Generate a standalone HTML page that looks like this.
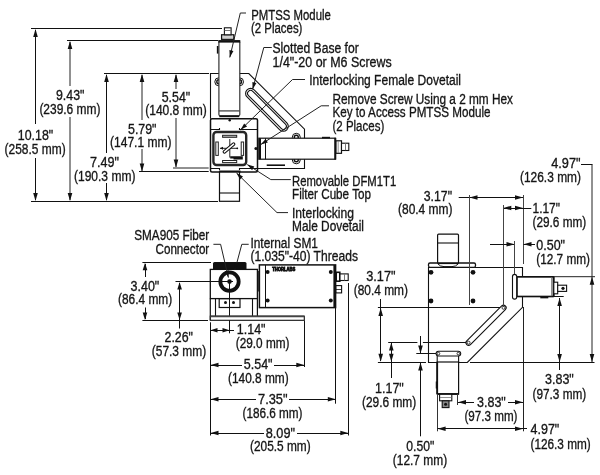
<!DOCTYPE html>
<html><head><meta charset="utf-8"><style>
html,body{margin:0;padding:0;background:#fff;}
svg{display:block;will-change:transform;}
</style></head><body>
<svg width="600" height="475" viewBox="0 0 600 475">
<rect width="600" height="475" fill="#fff"/>
<g font-family="Liberation Sans, sans-serif" fill="#151515" stroke="#151515" stroke-width="0.32">
<text x="251.30" y="19.95" textLength="79.53" lengthAdjust="spacingAndGlyphs" font-size="14">PMTSS Module</text>
<text x="251.00" y="32.90" textLength="51.42" lengthAdjust="spacingAndGlyphs" font-size="14">(2 Places)</text>
<text x="272.50" y="52.70" textLength="86.26" lengthAdjust="spacingAndGlyphs" font-size="14">Slotted Base for</text>
<text x="272.50" y="66.70" textLength="119.27" lengthAdjust="spacingAndGlyphs" font-size="14">1/4"-20 or M6 Screws</text>
<text x="309.25" y="85.10" textLength="151.78" lengthAdjust="spacingAndGlyphs" font-size="14">Interlocking Female Dovetail</text>
<text x="332.50" y="103.70" textLength="180.46" lengthAdjust="spacingAndGlyphs" font-size="14">Remove Screw Using a 2 mm Hex</text>
<text x="332.50" y="117.40" textLength="157.96" lengthAdjust="spacingAndGlyphs" font-size="14">Key to Access PMTSS Module</text>
<text x="332.50" y="131.40" textLength="51.72" lengthAdjust="spacingAndGlyphs" font-size="14">(2 Places)</text>
<text x="56.00" y="100.00" textLength="28.42" lengthAdjust="spacingAndGlyphs" font-size="14">9.43"</text>
<text x="39.40" y="113.70" textLength="61.08" lengthAdjust="spacingAndGlyphs" font-size="14">(239.6 mm)</text>
<text x="161.70" y="101.90" textLength="28.52" lengthAdjust="spacingAndGlyphs" font-size="14">5.54"</text>
<text x="145.20" y="114.90" textLength="61.48" lengthAdjust="spacingAndGlyphs" font-size="14">(140.8 mm)</text>
<text x="128.00" y="134.00" textLength="28.52" lengthAdjust="spacingAndGlyphs" font-size="14">5.79"</text>
<text x="110.00" y="147.20" textLength="61.48" lengthAdjust="spacingAndGlyphs" font-size="14">(147.1 mm)</text>
<text x="17.80" y="140.30" textLength="35.40" lengthAdjust="spacingAndGlyphs" font-size="14">10.18"</text>
<text x="4.60" y="154.10" textLength="61.08" lengthAdjust="spacingAndGlyphs" font-size="14">(258.5 mm)</text>
<text x="90.00" y="167.10" textLength="29.02" lengthAdjust="spacingAndGlyphs" font-size="14">7.49"</text>
<text x="74.00" y="180.70" textLength="61.38" lengthAdjust="spacingAndGlyphs" font-size="14">(190.3 mm)</text>
<text x="292.00" y="185.70" textLength="104.21" lengthAdjust="spacingAndGlyphs" font-size="14">Removable DFM1T1</text>
<text x="292.00" y="198.70" textLength="78.98" lengthAdjust="spacingAndGlyphs" font-size="14">Filter Cube Top</text>
<text x="292.00" y="217.70" textLength="61.99" lengthAdjust="spacingAndGlyphs" font-size="14">Interlocking</text>
<text x="292.00" y="230.70" textLength="72.01" lengthAdjust="spacingAndGlyphs" font-size="14">Male Dovetail</text>
<text x="134.25" y="239.95" textLength="74.98" lengthAdjust="spacingAndGlyphs" font-size="14">SMA905 Fiber</text>
<text x="155.50" y="253.70" textLength="53.74" lengthAdjust="spacingAndGlyphs" font-size="14">Connector</text>
<text x="250.40" y="247.50" textLength="67.57" lengthAdjust="spacingAndGlyphs" font-size="14">Internal SM1</text>
<text x="250.40" y="261.20" textLength="107.56" lengthAdjust="spacingAndGlyphs" font-size="14">(1.035"-40) Threads</text>
<text x="130.50" y="290.70" textLength="28.77" lengthAdjust="spacingAndGlyphs" font-size="14">3.40"</text>
<text x="118.00" y="304.45" textLength="54.19" lengthAdjust="spacingAndGlyphs" font-size="14">(86.4 mm)</text>
<text x="164.50" y="341.95" textLength="28.52" lengthAdjust="spacingAndGlyphs" font-size="14">2.26"</text>
<text x="151.75" y="356.20" textLength="54.49" lengthAdjust="spacingAndGlyphs" font-size="14">(57.3 mm)</text>
<text x="236.75" y="333.70" textLength="28.77" lengthAdjust="spacingAndGlyphs" font-size="14">1.14"</text>
<text x="235.75" y="347.70" textLength="53.74" lengthAdjust="spacingAndGlyphs" font-size="14">(29.0 mm)</text>
<text x="243.75" y="369.45" textLength="28.77" lengthAdjust="spacingAndGlyphs" font-size="14">5.54"</text>
<text x="228.00" y="383.20" textLength="60.73" lengthAdjust="spacingAndGlyphs" font-size="14">(140.8 mm)</text>
<text x="258.00" y="403.95" textLength="29.52" lengthAdjust="spacingAndGlyphs" font-size="14">7.35"</text>
<text x="242.50" y="417.70" textLength="59.98" lengthAdjust="spacingAndGlyphs" font-size="14">(186.6 mm)</text>
<text x="265.75" y="437.70" textLength="29.27" lengthAdjust="spacingAndGlyphs" font-size="14">8.09"</text>
<text x="250.00" y="451.45" textLength="60.73" lengthAdjust="spacingAndGlyphs" font-size="14">(205.5 mm)</text>
<text x="551.25" y="167.70" textLength="29.27" lengthAdjust="spacingAndGlyphs" font-size="14">4.97"</text>
<text x="520.00" y="181.70" textLength="60.98" lengthAdjust="spacingAndGlyphs" font-size="14">(126.3 mm)</text>
<text x="423.75" y="200.70" textLength="28.27" lengthAdjust="spacingAndGlyphs" font-size="14">3.17"</text>
<text x="398.00" y="214.45" textLength="54.49" lengthAdjust="spacingAndGlyphs" font-size="14">(80.4 mm)</text>
<text x="532.50" y="213.20" textLength="27.51" lengthAdjust="spacingAndGlyphs" font-size="14">1.17"</text>
<text x="532.50" y="227.45" textLength="53.74" lengthAdjust="spacingAndGlyphs" font-size="14">(29.6 mm)</text>
<text x="536.25" y="249.95" textLength="28.77" lengthAdjust="spacingAndGlyphs" font-size="14">0.50"</text>
<text x="536.25" y="263.95" textLength="53.74" lengthAdjust="spacingAndGlyphs" font-size="14">(12.7 mm)</text>
<text x="366.25" y="281.20" textLength="29.27" lengthAdjust="spacingAndGlyphs" font-size="14">3.17"</text>
<text x="353.75" y="295.20" textLength="54.24" lengthAdjust="spacingAndGlyphs" font-size="14">(80.4 mm)</text>
<text x="375.00" y="393.20" textLength="28.77" lengthAdjust="spacingAndGlyphs" font-size="14">1.17"</text>
<text x="362.00" y="406.95" textLength="54.24" lengthAdjust="spacingAndGlyphs" font-size="14">(29.6 mm)</text>
<text x="477.00" y="406.95" textLength="28.77" lengthAdjust="spacingAndGlyphs" font-size="14">3.83"</text>
<text x="464.50" y="420.70" textLength="52.99" lengthAdjust="spacingAndGlyphs" font-size="14">(97.3 mm)</text>
<text x="545.00" y="384.45" textLength="28.77" lengthAdjust="spacingAndGlyphs" font-size="14">3.83"</text>
<text x="532.50" y="398.70" textLength="53.74" lengthAdjust="spacingAndGlyphs" font-size="14">(97.3 mm)</text>
<text x="530.50" y="434.45" textLength="28.77" lengthAdjust="spacingAndGlyphs" font-size="14">4.97"</text>
<text x="530.50" y="448.70" textLength="60.23" lengthAdjust="spacingAndGlyphs" font-size="14">(126.3 mm)</text>
<text x="406.25" y="450.70" textLength="28.01" lengthAdjust="spacingAndGlyphs" font-size="14">0.50"</text>
<text x="392.80" y="464.70" textLength="54.39" lengthAdjust="spacingAndGlyphs" font-size="14">(12.7 mm)</text>
</g>
<line x1="31" y1="28.5" x2="222" y2="28.5" stroke="#111" stroke-width="1"/>
<line x1="67" y1="40.5" x2="218" y2="40.5" stroke="#111" stroke-width="1"/>
<line x1="104" y1="73.5" x2="209" y2="73.5" stroke="#111" stroke-width="1"/>
<line x1="139" y1="171.5" x2="208.7" y2="171.5" stroke="#111" stroke-width="1"/>
<line x1="173" y1="168" x2="208.7" y2="168" stroke="#222" stroke-width="1"/>
<line x1="31" y1="201.5" x2="218" y2="201.5" stroke="#111" stroke-width="1"/>
<line x1="35.5" y1="30" x2="35.5" y2="124" stroke="#111" stroke-width="1"/>
<line x1="35.5" y1="158" x2="35.5" y2="200" stroke="#111" stroke-width="1"/>
<polygon points="35.50,29.00 33.20,37.00 37.80,37.00" fill="#111"/>
<polygon points="35.50,201.00 33.20,193.00 37.80,193.00" fill="#111"/>
<line x1="70" y1="42" x2="70" y2="86" stroke="#222" stroke-width="1"/>
<line x1="70" y1="117" x2="70" y2="200" stroke="#222" stroke-width="1"/>
<polygon points="70.00,41.00 67.70,49.00 72.30,49.00" fill="#111"/>
<polygon points="70.00,201.00 67.70,193.00 72.30,193.00" fill="#111"/>
<line x1="106.5" y1="75" x2="106.5" y2="153" stroke="#111" stroke-width="1"/>
<line x1="106.5" y1="183" x2="106.5" y2="200" stroke="#111" stroke-width="1"/>
<polygon points="106.50,74.00 104.20,82.00 108.80,82.00" fill="#111"/>
<polygon points="106.50,201.00 104.20,193.00 108.80,193.00" fill="#111"/>
<line x1="142" y1="75" x2="142" y2="120" stroke="#222" stroke-width="1"/>
<line x1="142" y1="149" x2="142" y2="171" stroke="#222" stroke-width="1"/>
<polygon points="142.00,74.00 139.70,82.00 144.30,82.00" fill="#111"/>
<polygon points="142.00,171.50 139.70,163.50 144.30,163.50" fill="#111"/>
<line x1="176" y1="75" x2="176" y2="89" stroke="#222" stroke-width="1"/>
<line x1="176" y1="118" x2="176" y2="167" stroke="#222" stroke-width="1"/>
<polygon points="176.00,74.00 173.70,82.00 178.30,82.00" fill="#111"/>
<polygon points="176.00,167.50 173.70,159.50 178.30,159.50" fill="#111"/>
<path d="M210.5,118.8 V73.5 H248.8 L304.5,129.2 V168.5 H257.5" stroke="#111" stroke-width="1.1" fill="none"/>
<circle cx="218.8" cy="81.8" r="4" stroke="#111" stroke-width="1" fill="none"/>
<circle cx="218.8" cy="81.8" r="2" stroke="#111" stroke-width="1.4" fill="none"/>
<circle cx="239.5" cy="81.8" r="4" stroke="#111" stroke-width="1" fill="none"/>
<circle cx="239.5" cy="81.8" r="2" stroke="#111" stroke-width="1.4" fill="none"/>
<circle cx="296.3" cy="137.3" r="4" stroke="#111" stroke-width="1" fill="none"/>
<circle cx="296.3" cy="137.3" r="2" stroke="#111" stroke-width="1.4" fill="none"/>
<circle cx="296.3" cy="159.8" r="4" stroke="#111" stroke-width="1" fill="none"/>
<circle cx="296.3" cy="159.8" r="2" stroke="#111" stroke-width="1.4" fill="none"/>
<line x1="250.6" y1="93.4" x2="283.3" y2="126.3" stroke="#111" stroke-width="11.1" stroke-linecap="round"/>
<line x1="250.6" y1="93.4" x2="283.3" y2="126.3" stroke="#fff" stroke-width="8.9" stroke-linecap="round"/>
<line x1="250.6" y1="93.4" x2="283.3" y2="126.3" stroke="#111" stroke-width="7.1" stroke-linecap="round"/>
<line x1="250.6" y1="93.4" x2="283.3" y2="126.3" stroke="#fff" stroke-width="4.9" stroke-linecap="round"/>
<rect x="218.9" y="41" width="20.900000000000006" height="74.6" rx="1.2" stroke="#333" stroke-width="1.2" fill="#fff"/>
<rect x="218.3" y="40.1" width="22.0" height="2.5" rx="0" fill="#111"/>
<line x1="218.9" y1="110.9" x2="239.8" y2="110.9" stroke="#444" stroke-width="1.3"/>
<line x1="219.3" y1="116.6" x2="239.3" y2="116.6" stroke="#111" stroke-width="1.2"/>
<line x1="217.6" y1="46" x2="217.6" y2="53.6" stroke="#111" stroke-width="1.5"/>
<rect x="221.6" y="34.8" width="12.200000000000017" height="4.5" rx="0" stroke="#111" stroke-width="1.3" fill="#fff"/>
<line x1="222" y1="37" x2="233.4" y2="37" stroke="#888" stroke-width="0.8"/>
<rect x="224.4" y="27.8" width="6.699999999999989" height="6.9999999999999964" rx="0" stroke="#111" stroke-width="1.1" fill="#fff"/>
<line x1="224.6" y1="30.5" x2="231" y2="30.5" stroke="#777" stroke-width="1"/>
<rect x="210.5" y="118.8" width="47.0" height="53.2" rx="1.5" stroke="#111" stroke-width="1.5" fill="#fff"/>
<circle cx="229.7" cy="120.2" r="1.2" fill="#111"/>
<path d="M210.5,129.5 H219.5 V128 M239.5,128 V129.5 H257.5" stroke="#111" stroke-width="1.1" fill="none"/>
<path d="M210.5,168.5 H219.5 V170 M239.5,170 V168.5 H257.5" stroke="#111" stroke-width="1.1" fill="none"/>
<rect x="213.4" y="132" width="32.79999999999998" height="33" rx="3.2" stroke="#262626" stroke-width="2.4" fill="#fff"/>
<rect x="222.6" y="135.3" width="14.099999999999994" height="2.0" rx="0" stroke="#222" stroke-width="1" fill="#bbb"/>
<rect x="222.6" y="160.5" width="14.099999999999994" height="2.0999999999999943" rx="0" stroke="#222" stroke-width="1" fill="#fff"/>
<rect x="215.8" y="142" width="2.5" height="13.400000000000006" rx="0" stroke="#222" stroke-width="1" fill="#fff"/>
<rect x="241.2" y="142" width="2.4000000000000057" height="13.400000000000006" rx="0" stroke="#222" stroke-width="1" fill="#fff"/>
<line x1="220" y1="148.3" x2="237.6" y2="148.3" stroke="#222" stroke-width="1"/>
<line x1="229.8" y1="139" x2="229.8" y2="157.6" stroke="#222" stroke-width="1"/>
<polygon points="220.00,148.30 223.00,146.80 223.00,149.80" fill="#111"/>
<circle cx="237.3" cy="148.3" r="0.9" fill="#111"/>
<line x1="224.4" y1="151.9" x2="233.6" y2="144.1" stroke="#111" stroke-width="3.6" stroke-linecap="round"/>
<line x1="224.4" y1="151.9" x2="233.6" y2="144.1" stroke="#fff" stroke-width="1.4" stroke-linecap="round"/>
<path d="M230.2,156.2 H242.8 V159.6 H233.5 V158.6 H230.2 Z" stroke="#111" stroke-width="0" fill="#111"/>
<rect x="258.8" y="138.2" width="76.5" height="21.0" rx="0" stroke="#111" stroke-width="1.2" fill="#fff"/>
<line x1="260" y1="138.2" x2="260" y2="159.2" stroke="#111" stroke-width="2"/>
<line x1="265.5" y1="138.2" x2="265.5" y2="159.2" stroke="#111" stroke-width="1"/>
<line x1="335.3" y1="137.8" x2="335.3" y2="159.6" stroke="#111" stroke-width="2"/>
<line x1="322" y1="137.6" x2="330" y2="137.6" stroke="#111" stroke-width="1.6"/>
<rect x="336" y="140.8" width="5.5" height="12.5" rx="0" stroke="#111" stroke-width="1.2" fill="#fff"/>
<line x1="338.2" y1="141" x2="338.2" y2="153" stroke="#777" stroke-width="0.8"/>
<rect x="341.5" y="143.2" width="7.300000000000011" height="7.300000000000011" rx="0" stroke="#111" stroke-width="1.1" fill="#fff"/>
<line x1="345.5" y1="143.5" x2="345.5" y2="150.2" stroke="#777" stroke-width="1"/>
<line x1="266.7" y1="165.2" x2="285" y2="165.2" stroke="#111" stroke-width="1.6"/>
<circle cx="255.9" cy="148.5" r="1.5" fill="#111"/>
<rect x="219.5" y="172" width="20.0" height="29.30000000000001" rx="0" stroke="#111" stroke-width="1.2" fill="#fff"/>
<line x1="219" y1="171.4" x2="240.5" y2="171.4" stroke="#111" stroke-width="1.8"/>
<line x1="219.5" y1="193" x2="239.5" y2="193" stroke="#111" stroke-width="1.1"/>
<path d="M246,13 L240.3,13 L229.8,57.4" stroke="#222" stroke-width="1" fill="none"/>
<polygon points="229.80,57.40 229.37,50.10 233.45,51.07" fill="#111"/>
<path d="M271.8,47.5 L263.8,47.5 L252.6,89.3" stroke="#222" stroke-width="1" fill="none"/>
<polygon points="252.60,89.30 252.38,82.00 256.44,83.08" fill="#111"/>
<path d="M305,79.5 L292.5,79.5 L240.6,129.8" stroke="#222" stroke-width="1" fill="none"/>
<polygon points="240.60,129.80 244.17,123.42 247.09,126.44" fill="#111"/>
<path d="M329,105.8 L321.2,105.8 L260.8,144.5" stroke="#222" stroke-width="1" fill="none"/>
<polygon points="260.80,144.50 265.56,138.96 267.83,142.49" fill="#111"/>
<path d="M290.8,179.6 L270.8,179.6 L247.3,164.6" stroke="#222" stroke-width="1" fill="none"/>
<polygon points="247.30,164.60 254.33,166.60 252.07,170.14" fill="#111"/>
<path d="M288,212.6 L277,212.6 L236.5,173" stroke="#222" stroke-width="1" fill="none"/>
<polygon points="236.50,173.00 242.97,176.39 240.04,179.40" fill="#111"/>
<rect x="213" y="262" width="33.5" height="8" rx="1.5" fill="#111"/>
<rect x="210.3" y="269.4" width="47.099999999999966" height="29.200000000000045" rx="0" stroke="#111" stroke-width="1.3" fill="#fff"/>
<circle cx="229.5" cy="281.6" r="9.2" stroke="#111" stroke-width="3.8" fill="none"/>
<circle cx="229.5" cy="281.6" r="2.3" fill="#111"/>
<circle cx="229.5" cy="281.6" r="0.8" fill="#fff"/>
<line x1="175.7" y1="281.5" x2="233" y2="281.5" stroke="#111" stroke-width="1"/>
<line x1="229.5" y1="280" x2="229.5" y2="333.3" stroke="#111" stroke-width="1"/>
<line x1="210.3" y1="298.6" x2="210.3" y2="320.3" stroke="#111" stroke-width="1.2"/>
<line x1="257.4" y1="298.6" x2="257.4" y2="316" stroke="#111" stroke-width="1.2"/>
<line x1="215.5" y1="298.6" x2="215.5" y2="316" stroke="#111" stroke-width="1.1"/>
<line x1="252.5" y1="298.6" x2="252.5" y2="316" stroke="#111" stroke-width="1.1"/>
<rect x="219.2" y="298.6" width="20.80000000000001" height="8.899999999999977" rx="0" stroke="#111" stroke-width="1.2" fill="none"/>
<circle cx="225.5" cy="302.5" r="1.5" fill="#111"/>
<circle cx="233.5" cy="302.5" r="1.5" fill="#111"/>
<rect x="210.3" y="316.2" width="94.0" height="4.100000000000023" rx="0" stroke="#111" stroke-width="1.1" fill="#fff"/>
<line x1="210.3" y1="316.4" x2="304.3" y2="316.4" stroke="#444" stroke-width="1.6"/>
<rect x="259.4" y="264.9" width="76.20000000000005" height="42.700000000000045" rx="0" stroke="#111" stroke-width="1.5" fill="#fff"/>
<line x1="265.5" y1="265" x2="265.5" y2="307.5" stroke="#111" stroke-width="1"/>
<line x1="334.6" y1="265" x2="334.6" y2="307.5" stroke="#111" stroke-width="2.4"/>
<circle cx="267.6" cy="272" r="2" fill="#111"/>
<circle cx="330.8" cy="272" r="2" fill="#111"/>
<circle cx="267.6" cy="300.6" r="2" fill="#111"/>
<circle cx="330.8" cy="300.6" r="2" fill="#111"/>
<line x1="258.5" y1="271" x2="258.5" y2="291.5" stroke="#111" stroke-width="0.8"/>
<text x="272.2" y="270.9" font-family="Liberation Sans, sans-serif" font-weight="bold" font-size="5" textLength="23" lengthAdjust="spacingAndGlyphs" fill="#111" stroke="#111" stroke-width="0.9">THORLABS</text>
<rect x="336.2" y="272.3" width="3.6000000000000227" height="8.899999999999977" rx="0" stroke="#111" stroke-width="1.6" fill="#fff"/>
<rect x="340" y="273.9" width="8.199999999999989" height="6.600000000000023" rx="0" stroke="#111" stroke-width="1.1" fill="#fff"/>
<line x1="344.5" y1="274" x2="344.5" y2="280.4" stroke="#777" stroke-width="1"/>
<rect x="336" y="285.6" width="5.600000000000023" height="7.2999999999999545" rx="0" stroke="#111" stroke-width="1.1" fill="#fff"/>
<line x1="336" y1="289.5" x2="341.6" y2="289.5" stroke="#111" stroke-width="0.8"/>
<path d="M213.4,244.3 L220.6,244.3 L228.4,277.6" stroke="#222" stroke-width="1" fill="none"/>
<polygon points="228.40,277.60 224.76,271.26 228.85,270.31" fill="#111"/>
<path d="M248.7,244.3 L241.8,244.3 L235,269.7" stroke="#222" stroke-width="1" fill="none"/>
<polygon points="235.00,269.70 234.78,262.40 238.84,263.48" fill="#111"/>
<path d="M428.5,267.5 V362.5 H467.3 L522.5,307.3 V267.5 Z" stroke="#111" stroke-width="1.1" fill="none"/>
<circle cx="431" cy="272.3" r="2.4" fill="#111"/>
<circle cx="473" cy="272.3" r="2.4" fill="#111"/>
<circle cx="431" cy="301" r="2.4" fill="#111"/>
<circle cx="473" cy="301" r="2.4" fill="#111"/>
<rect x="428.5" y="263" width="47.0" height="4.300000000000011" rx="1.5" stroke="#111" stroke-width="1.3" fill="#fff"/>
<rect x="437.6" y="234.2" width="20.899999999999977" height="29.100000000000023" rx="1" stroke="#111" stroke-width="1.2" fill="#fff"/>
<line x1="437.6" y1="243" x2="458.5" y2="243" stroke="#111" stroke-width="1.1"/>
<line x1="437.6" y1="263.2" x2="458.5" y2="263.2" stroke="#111" stroke-width="1.8"/>
<path d="M438,264 Q440,266.6 444,266.6 H452 Q456,266.6 458,264" stroke="#111" stroke-width="1" fill="none"/>
<line x1="503.5" y1="307.8" x2="468.6" y2="342.7" stroke="#111" stroke-width="6.300000000000001" stroke-linecap="round"/>
<line x1="503.5" y1="307.8" x2="468.6" y2="342.7" stroke="#fff" stroke-width="4.1" stroke-linecap="round"/>
<circle cx="503.5" cy="307.8" r="1.5" stroke="#111" stroke-width="0.8" fill="none"/>
<circle cx="468.6" cy="342.7" r="1.5" stroke="#111" stroke-width="0.8" fill="none"/>
<rect x="437.2" y="362" width="21.400000000000034" height="32" rx="0" stroke="#111" stroke-width="1.2" fill="#fff"/>
<line x1="437.2" y1="362" x2="437.2" y2="394.2" stroke="#111" stroke-width="1.8"/>
<line x1="437" y1="394" x2="458.8" y2="394" stroke="#111" stroke-width="1.8"/>
<line x1="436.5" y1="381.5" x2="436.5" y2="388.5" stroke="#111" stroke-width="1.5"/>
<line x1="438.5" y1="353.6" x2="458.3" y2="353.6" stroke="#111" stroke-width="5.9" stroke-linecap="round"/>
<line x1="438.5" y1="353.6" x2="458.3" y2="353.6" stroke="#fff" stroke-width="3.6999999999999997" stroke-linecap="round"/>
<circle cx="438.5" cy="353.6" r="1.3" stroke="#111" stroke-width="0.8" fill="none"/>
<circle cx="458.3" cy="353.6" r="1.3" stroke="#111" stroke-width="0.8" fill="none"/>
<line x1="437.2" y1="356" x2="437.2" y2="362" stroke="#111" stroke-width="1.1"/>
<line x1="458.6" y1="356" x2="458.6" y2="362" stroke="#111" stroke-width="1.1"/>
<rect x="439.6" y="394.3" width="12.199999999999989" height="6.5" rx="0" stroke="#111" stroke-width="1.1" fill="#fff"/>
<line x1="440" y1="397.5" x2="451.5" y2="397.5" stroke="#777" stroke-width="0.8"/>
<rect x="442.2" y="400.8" width="6.800000000000011" height="6.800000000000011" rx="0" stroke="#111" stroke-width="1.1" fill="#888"/>
<circle cx="445.6" cy="404.2" r="1.5" fill="#111"/>
<line x1="514.6" y1="276.5" x2="514.6" y2="297" stroke="#111" stroke-width="5.300000000000001" stroke-linecap="round"/>
<line x1="514.6" y1="276.5" x2="514.6" y2="297" stroke="#fff" stroke-width="3.1" stroke-linecap="round"/>
<rect x="517.2" y="276.8" width="36.39999999999998" height="19.69999999999999" rx="0" stroke="#111" stroke-width="1.2" fill="#fff"/>
<line x1="517.2" y1="276.8" x2="553.6" y2="276.8" stroke="#111" stroke-width="1.6"/>
<line x1="517.2" y1="296.5" x2="553.6" y2="296.5" stroke="#111" stroke-width="1.6"/>
<line x1="553.6" y1="276.5" x2="553.6" y2="297" stroke="#111" stroke-width="2"/>
<line x1="551.7" y1="277" x2="551.7" y2="296.2" stroke="#666" stroke-width="0.9"/>
<line x1="540.3" y1="297.6" x2="548.3" y2="297.6" stroke="#111" stroke-width="1.5"/>
<rect x="553.8" y="282.2" width="3.900000000000091" height="11.600000000000023" rx="0" stroke="#111" stroke-width="1.1" fill="#fff"/>
<rect x="557.7" y="285.2" width="8.899999999999977" height="6.199999999999989" rx="0" stroke="#111" stroke-width="1.1" fill="#fff"/>
<circle cx="563" cy="288.3" r="1.6" fill="#111"/>
<line x1="142.4" y1="262.5" x2="211" y2="262.5" stroke="#111" stroke-width="1"/>
<line x1="142.4" y1="320.5" x2="208" y2="320.5" stroke="#111" stroke-width="1"/>
<line x1="145.5" y1="264" x2="145.5" y2="277" stroke="#111" stroke-width="1"/>
<line x1="145.5" y1="307.5" x2="145.5" y2="319" stroke="#111" stroke-width="1"/>
<polygon points="145.00,262.80 142.70,270.30 147.30,270.30" fill="#111"/>
<polygon points="145.00,320.00 142.70,312.50 147.30,312.50" fill="#111"/>
<line x1="175.7" y1="281.5" x2="229.5" y2="281.5" stroke="#111" stroke-width="1"/>
<line x1="179.5" y1="283" x2="179.5" y2="328.5" stroke="#111" stroke-width="1"/>
<polygon points="179.60,282.00 177.30,289.50 181.90,289.50" fill="#111"/>
<polygon points="179.60,320.00 177.30,312.50 181.90,312.50" fill="#111"/>
<line x1="210.5" y1="322.3" x2="210.5" y2="435.5" stroke="#111" stroke-width="1"/>
<line x1="210.5" y1="330.5" x2="234" y2="330.5" stroke="#111" stroke-width="1"/>
<polygon points="210.50,330.30 217.50,328.00 217.50,332.60" fill="#111"/>
<polygon points="229.50,330.30 222.50,328.00 222.50,332.60" fill="#111"/>
<line x1="304.5" y1="320.5" x2="304.5" y2="367" stroke="#111" stroke-width="1"/>
<line x1="210.5" y1="365.5" x2="242" y2="365.5" stroke="#111" stroke-width="1"/>
<line x1="274" y1="365.5" x2="304" y2="365.5" stroke="#111" stroke-width="1"/>
<polygon points="210.50,365.00 218.50,362.70 218.50,367.30" fill="#111"/>
<polygon points="304.30,365.00 296.30,362.70 296.30,367.30" fill="#111"/>
<line x1="335.5" y1="307.7" x2="335.5" y2="403.7" stroke="#111" stroke-width="1"/>
<line x1="210.5" y1="399.5" x2="256" y2="399.5" stroke="#111" stroke-width="1"/>
<line x1="289" y1="399.5" x2="335.5" y2="399.5" stroke="#111" stroke-width="1"/>
<polygon points="210.50,399.30 218.50,397.00 218.50,401.60" fill="#111"/>
<polygon points="335.80,399.30 327.80,397.00 327.80,401.60" fill="#111"/>
<line x1="348.5" y1="283" x2="348.5" y2="435.5" stroke="#111" stroke-width="1"/>
<line x1="210.5" y1="433.5" x2="264" y2="433.5" stroke="#111" stroke-width="1"/>
<line x1="297" y1="433.5" x2="348" y2="433.5" stroke="#111" stroke-width="1"/>
<polygon points="210.50,433.00 218.50,430.70 218.50,435.30" fill="#111"/>
<polygon points="348.30,433.00 340.30,430.70 340.30,435.30" fill="#111"/>
<line x1="581" y1="164.5" x2="592.5" y2="164.5" stroke="#111" stroke-width="1"/>
<line x1="592" y1="164.5" x2="592" y2="362" stroke="#222" stroke-width="1"/>
<polygon points="592.00,276.70 589.70,284.70 594.30,284.70" fill="#111"/>
<polygon points="592.00,362.00 589.70,354.00 594.30,354.00" fill="#111"/>
<line x1="553.7" y1="276.7" x2="595" y2="276.7" stroke="#222" stroke-width="1"/>
<line x1="553.5" y1="296.5" x2="563.7" y2="296.5" stroke="#111" stroke-width="1"/>
<line x1="559.5" y1="298" x2="559.5" y2="370" stroke="#111" stroke-width="1"/>
<polygon points="559.60,298.00 557.30,306.00 561.90,306.00" fill="#111"/>
<polygon points="559.60,362.00 557.30,354.00 561.90,354.00" fill="#111"/>
<line x1="458.7" y1="197.5" x2="523" y2="197.5" stroke="#111" stroke-width="1"/>
<polygon points="469.50,197.50 477.50,195.20 477.50,199.80" fill="#111"/>
<polygon points="523.00,197.50 515.00,195.20 515.00,199.80" fill="#111"/>
<line x1="469.5" y1="195" x2="469.5" y2="305" stroke="#444" stroke-width="1"/>
<line x1="523.5" y1="195" x2="523.5" y2="264" stroke="#444" stroke-width="1"/>
<line x1="503.3" y1="208.5" x2="531.3" y2="208.5" stroke="#111" stroke-width="1"/>
<polygon points="503.30,208.00 511.30,205.70 511.30,210.30" fill="#111"/>
<polygon points="523.00,208.00 515.00,205.70 515.00,210.30" fill="#111"/>
<line x1="503.5" y1="205" x2="503.5" y2="307" stroke="#444" stroke-width="1"/>
<line x1="490" y1="244.5" x2="514.5" y2="244.5" stroke="#111" stroke-width="1"/>
<polygon points="514.50,244.30 506.50,242.00 506.50,246.60" fill="#111"/>
<line x1="514.5" y1="241" x2="514.5" y2="274" stroke="#444" stroke-width="1"/>
<line x1="523.5" y1="244.5" x2="535" y2="244.5" stroke="#111" stroke-width="1"/>
<polygon points="523.50,244.30 531.50,242.00 531.50,246.60" fill="#111"/>
<line x1="523.5" y1="307" x2="523.5" y2="431.3" stroke="#222" stroke-width="1"/>
<line x1="470" y1="362.5" x2="594.5" y2="362.5" stroke="#111" stroke-width="1"/>
<line x1="377.9" y1="307.5" x2="500" y2="307.5" stroke="#111" stroke-width="1"/>
<line x1="380.5" y1="299" x2="380.5" y2="361" stroke="#111" stroke-width="1"/>
<polygon points="380.70,308.00 378.40,316.00 383.00,316.00" fill="#111"/>
<polygon points="380.70,361.80 378.40,353.80 383.00,353.80" fill="#111"/>
<line x1="388.2" y1="342.5" x2="417.4" y2="342.5" stroke="#111" stroke-width="1"/>
<line x1="422.9" y1="342.5" x2="466" y2="342.5" stroke="#111" stroke-width="1"/>
<line x1="391.5" y1="343" x2="391.5" y2="378" stroke="#111" stroke-width="1"/>
<polygon points="391.30,342.50 389.00,350.50 393.60,350.50" fill="#111"/>
<polygon points="391.30,361.80 389.00,353.80 393.60,353.80" fill="#111"/>
<line x1="420.5" y1="336" x2="420.5" y2="353" stroke="#111" stroke-width="1"/>
<polygon points="420.50,353.50 418.20,345.50 422.80,345.50" fill="#111"/>
<line x1="416.3" y1="353.5" x2="436" y2="353.5" stroke="#111" stroke-width="1"/>
<line x1="377.9" y1="362.5" x2="426" y2="362.5" stroke="#111" stroke-width="1"/>
<line x1="420.5" y1="363" x2="420.5" y2="436.3" stroke="#111" stroke-width="1"/>
<polygon points="420.50,362.50 418.20,370.50 422.80,370.50" fill="#111"/>
<line x1="437.5" y1="394" x2="437.5" y2="431.3" stroke="#333" stroke-width="1"/>
<line x1="457.5" y1="394" x2="457.5" y2="405" stroke="#333" stroke-width="1"/>
<line x1="458" y1="402.5" x2="474" y2="402.5" stroke="#111" stroke-width="1"/>
<line x1="508" y1="402.5" x2="523" y2="402.5" stroke="#111" stroke-width="1"/>
<polygon points="458.00,402.30 466.00,400.00 466.00,404.60" fill="#111"/>
<polygon points="523.00,402.30 515.00,400.00 515.00,404.60" fill="#111"/>
<line x1="437.6" y1="428.5" x2="527" y2="428.5" stroke="#111" stroke-width="1"/>
<polygon points="437.60,428.80 445.60,426.50 445.60,431.10" fill="#111"/>
<polygon points="523.00,428.80 515.00,426.50 515.00,431.10" fill="#111"/>
</svg>
</body></html>
